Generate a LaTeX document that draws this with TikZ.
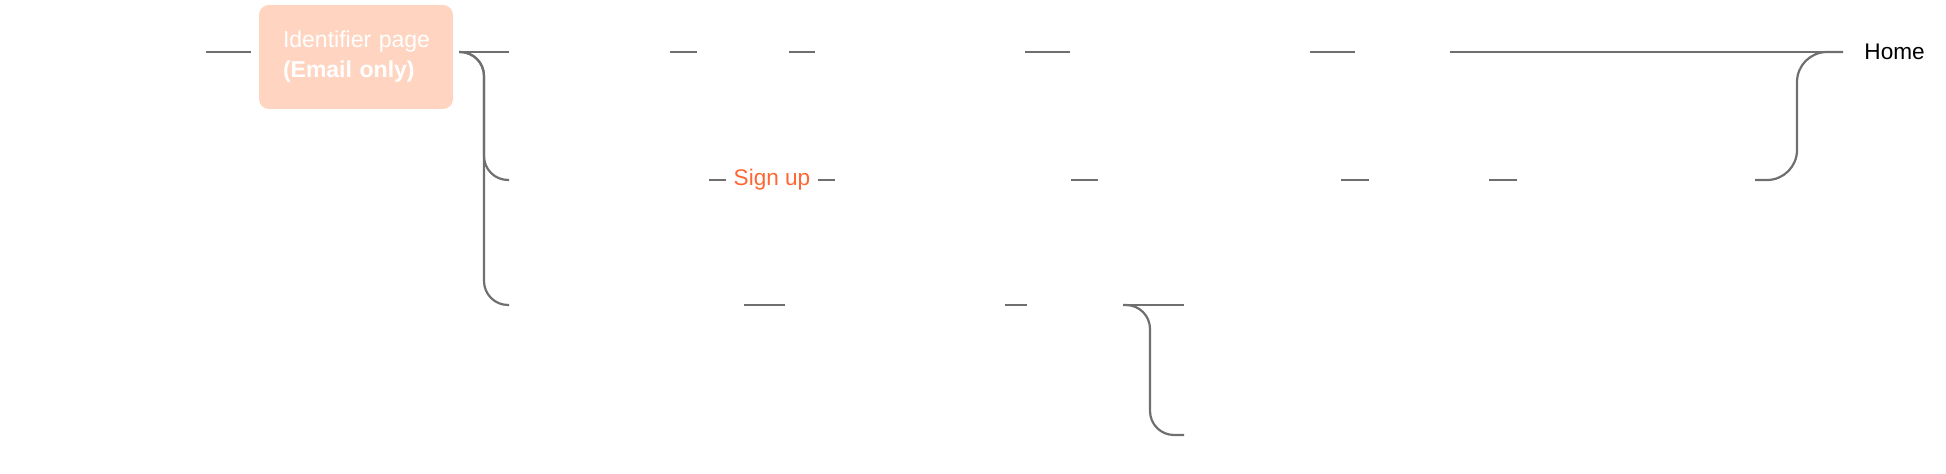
\documentclass[tikz,border=0pt]{standalone}
\usepackage{fontspec}
\setmainfont{Liberation Sans}
\usetikzlibrary{positioning}
\definecolor{linkgray}{HTML}{6F6F6F}
\definecolor{peach}{HTML}{FFD5C2}
\definecolor{signred}{HTML}{FF6633}
\tikzset{
    %Define style for connector lines
    link/.style={
           draw=linkgray,
           line width=1.1pt},
    %Define style for rounded branches
    branch/.style={
           link,
           rounded corners=12pt},
    %Define style for the page box
    pagebox/.style={
           rectangle,
           rounded corners=5pt,
           fill=peach,
           text=white,
           minimum width=97pt,
           minimum height=52pt,
           text width=73pt,
           align=left,
           inner sep=0pt,
           font=\fontsize{11.5}{15}\selectfont},
    % Define style for plain texts
    txt/.style={
           inner sep=0pt,
           font=\fontsize{11.3}{13}\selectfont}
}
\begin{document}
\begin{tikzpicture}[x=0.5pt, y=-0.5pt]
  \useasboundingbox (0,0) rectangle (1946,474);
  \node[pagebox] (idpage) at (356,57) {\raisebox{-1.5pt}{Identifier page}\\\raisebox{-1.5pt}{\textbf{(Email only)}}};
  \node[txt,text=signred] (signup) at (772,180) {Sign up};
  \node[txt,anchor=west] (home) at (1864,52) {Home};
  % stubs, row by row
  \foreach \a/\b/\y [count=\i] in {206/251/52, 459/509/52, 670/697/52, 789/815/52,
      1025/1070/52, 1310/1355/52, 1450/1843/52,
      709/726/180, 818/835/180, 1071/1098/180, 1341/1369/180, 1489/1517/180,
      744/785/305, 1005/1027/305, 1123/1184/305}
  {
    \coordinate (s\i a) at (\a,\y);
    \coordinate (s\i b) at (\b,\y);
    \draw[link] (s\i a) -- (s\i b);
  }
  \coordinate (fork) at (459,52);
  \coordinate (signin) at (509,180);
  \coordinate (other) at (509,305);
  \coordinate (back) at (1755,180);
  \coordinate (join) at (1843,52);
  \coordinate (drop) at (1123,305);
  \coordinate (dropend) at (1184,435);
  \draw[branch] (fork) -| (484,180) -- (signin);
  \draw[branch] (fork) -| (484,305) -- (other);
  \draw[branch,rounded corners=15pt] (back) -| (1797,52) -- (join);
  \draw[branch] (drop) -| (1150,435) -- (dropend);
\end{tikzpicture}
\end{document}
